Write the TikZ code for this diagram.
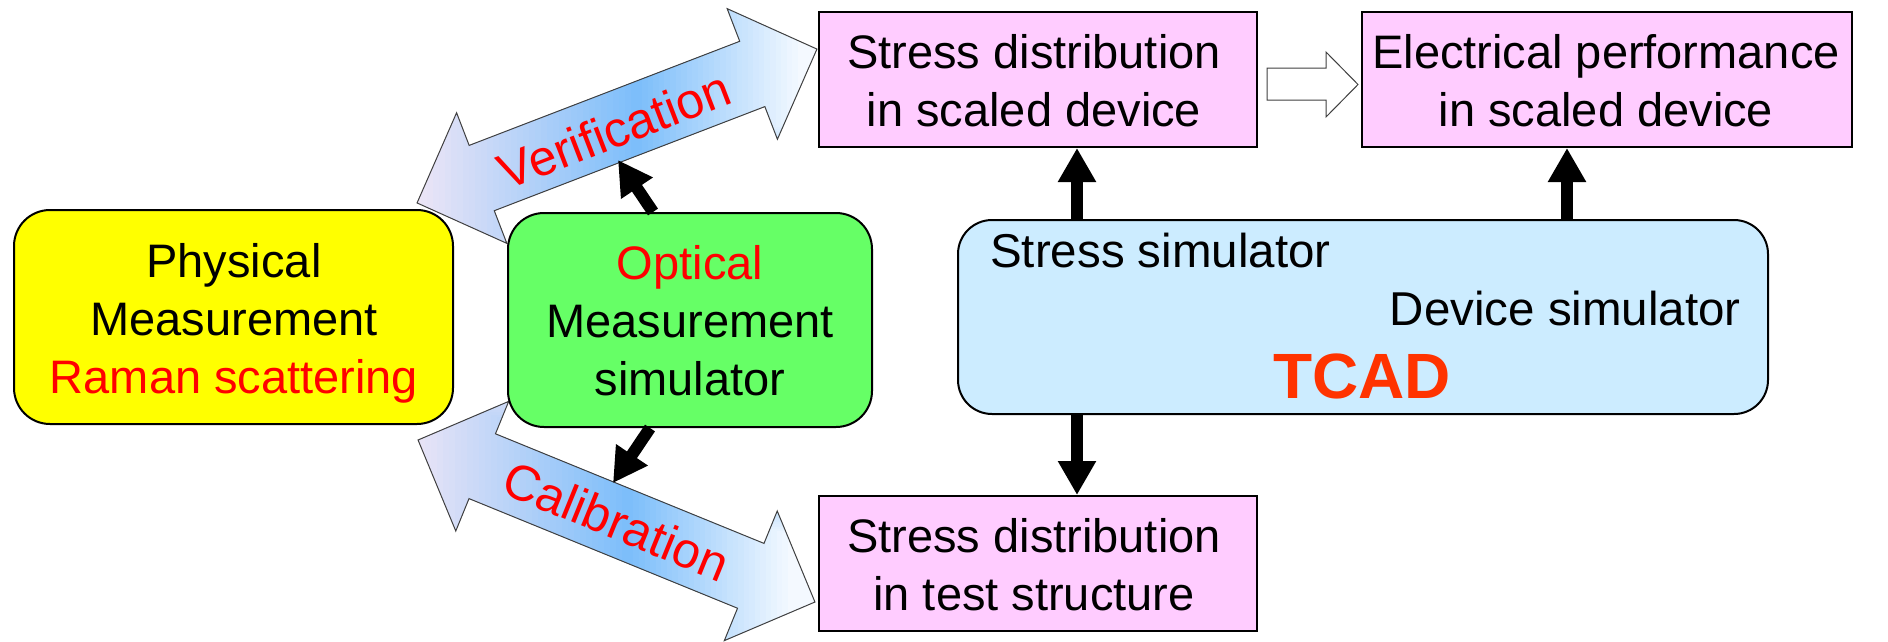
\documentclass[tikz,border=0pt]{standalone}
\usepackage{fontspec}
\setmainfont{Liberation Sans}
\usetikzlibrary{arrows.meta,calc}
\definecolor{yelF}{HTML}{FFFF00}
\definecolor{grnF}{HTML}{66FF66}
\definecolor{bluF}{HTML}{CCECFF}
\definecolor{pnkF}{HTML}{FFCCFF}
\definecolor{redT}{HTML}{FF0000}
\definecolor{tcadC}{HTML}{FF3300}
\definecolor{gLav}{HTML}{F5E8F6}
\definecolor{gBlu}{HTML}{7DBEFA}
\definecolor{gWht}{HTML}{F4F9FF}
\definecolor{outl}{HTML}{404040}
\begin{document}
\begin{tikzpicture}[x=1pt,y=-1pt,
  rbox/.style={draw=black,line width=2pt,rounded corners=36pt,inner sep=0pt},
  pbox/.style={draw=black,line width=2pt,fill=pnkF,inner sep=0pt},
  txt/.style={inner sep=0pt,align=center,font=\fontsize{47}{58}\selectfont},
  btxt/.style={inner sep=0pt,font=\fontsize{47.5}{58}\selectfont},
  tcadtxt/.style={inner sep=0pt,text=tcadC,font=\fontsize{64}{70}\selectfont\bfseries},
  arrtxt/.style={inner sep=0pt,text=redT,font=\fontsize{50}{58}\selectfont},
  blk/.style={line width=12pt,-{Triangle[width=36pt,length=34pt]}},
  dblout/.style={draw=outl,line width=1pt},
  hollow/.style={draw=outl,line width=1pt,fill=white}]
\useasboundingbox (0,0) rectangle (1888,641);

% ---- double arrow: Verification
\begin{scope}[shift={(617,126)},x={(0.933pt,0.359pt)},y={(-0.359pt,0.933pt)}]
  \begin{scope}
    \clip (-214.3,0) -- (-145,70) -- (-145,35) -- (145,35) -- (145,70) -- (214.3,0) -- (145,-70) -- (145,-35) -- (-145,-35) -- (-145,-70) -- cycle;
    \foreach \i in {0,...,39} {
      \pgfmathtruncatemacro\p{100*\i/39}
      \fill[color=gBlu!\p!gLav] (-215+\i*6.45,-75) rectangle (-215+\i*6.45+7.5,75);
    }
    \foreach \i in {0,...,29} {
      \pgfmathtruncatemacro\p{100*\i/29}
      \fill[color=gWht!\p!gBlu] (43+\i*5.95,-75) rectangle (43+\i*5.95+7,75);
    }
  \end{scope}
  \draw[dblout] (-214.3,0) -- (-145,70) -- (-145,35) -- (145,35) -- (145,70) -- (214.3,0) -- (145,-70) -- (145,-35) -- (-145,-35) -- (-145,-70) -- cycle;
  \node[arrtxt,rotate=21.06] (verT) at (-4,-3) {Verification};
\end{scope}

% ---- double arrow: Calibration
\begin{scope}[shift={(616.5,521)},x={(0.926pt,-0.378pt)},y={(0.378pt,0.926pt)}]
  \begin{scope}
    \clip (-214.3,0) -- (-145,70) -- (-145,35) -- (145,35) -- (145,70) -- (214.3,0) -- (145,-70) -- (145,-35) -- (-145,-35) -- (-145,-70) -- cycle;
    \foreach \i in {0,...,39} {
      \pgfmathtruncatemacro\p{100*\i/39}
      \fill[color=gBlu!\p!gLav] (-215+\i*6.45,-75) rectangle (-215+\i*6.45+7.5,75);
    }
    \foreach \i in {0,...,29} {
      \pgfmathtruncatemacro\p{100*\i/29}
      \fill[color=gWht!\p!gBlu] (43+\i*5.95,-75) rectangle (43+\i*5.95+7,75);
    }
  \end{scope}
  \draw[dblout] (-214.3,0) -- (-145,70) -- (-145,35) -- (145,35) -- (145,70) -- (214.3,0) -- (145,-70) -- (145,-35) -- (-145,-35) -- (-145,-70) -- cycle;
  \node[arrtxt,rotate=-22.2] (calT) at (0,0) {Calibration};
\end{scope}

% ---- boxes
\node[rbox,fill=yelF,minimum width=439pt,minimum height=214pt] (phys) at (233.5,317) {};
\node[rbox,fill=grnF,minimum width=364pt,minimum height=214pt] (opt) at (690,320) {};
\node[rbox,fill=bluF,minimum width=810pt,minimum height=194pt,rounded corners=34pt] (tcad) at (1363,317) {};
\node[pbox,minimum width=438pt,minimum height=135pt] (p1) at (1038,79.5) {};
\node[pbox,minimum width=490pt,minimum height=135pt] (p2) at (1607,79.5) {};
\node[pbox,minimum width=438pt,minimum height=135pt] (p3) at (1038,563.5) {};

% ---- texts (base anchor = last line's baseline)
\node[txt,anchor=base] (physT) at (234,393) {Physical\\Measurement\\\textcolor{redT}{Raman scattering}};
\node[txt,anchor=base] (optT) at (690,395) {\textcolor{redT}{Optical}\\Measurement\\simulator};
\node[txt,anchor=base] (p1T) at (1034,126) {Stress distribution\\in scaled device};
\node[txt,anchor=base] (p2T) at (1606,126) {Electrical performance\\in scaled device};
\node[txt,anchor=base] (p3T) at (1034,610) {Stress distribution\\in test structure};
\node[btxt,anchor=base west] (ssT) at (990,267) {Stress simulator};
\node[btxt,anchor=base east] (dsT) at (1741,325) {Device simulator};
\node[tcadtxt,anchor=base] (tcT) at (1362,398) {TCAD};

% ---- hollow arrow between p1 and p2
\draw[hollow] ($(p1.east)+(9,-11.5)$) -- ++(59,0) -- ++(0,-16) -- ++(32,32.5) -- ++(-32,32.5) -- ++(0,-17) -- ++(-59,0) -- cycle;

% ---- black arrows
\coordinate (xa) at (1077,0);
\coordinate (xb) at (1567,0);
\coordinate (vtip) at (618,160);
\coordinate (ctip) at (613,483);
\draw[blk] (tcad.north -| xa) -- (p1.south -| xa);
\draw[blk] (tcad.north -| xb) -- (p2.south -| xb);
\draw[blk] (tcad.south -| xa) -- (p3.north -| xa);
\draw[blk] ($(opt.north)+(-37,0)$) -- (vtip);
\draw[blk] ($(opt.south)+(-40,0)$) -- (ctip);
\end{tikzpicture}
\end{document}
